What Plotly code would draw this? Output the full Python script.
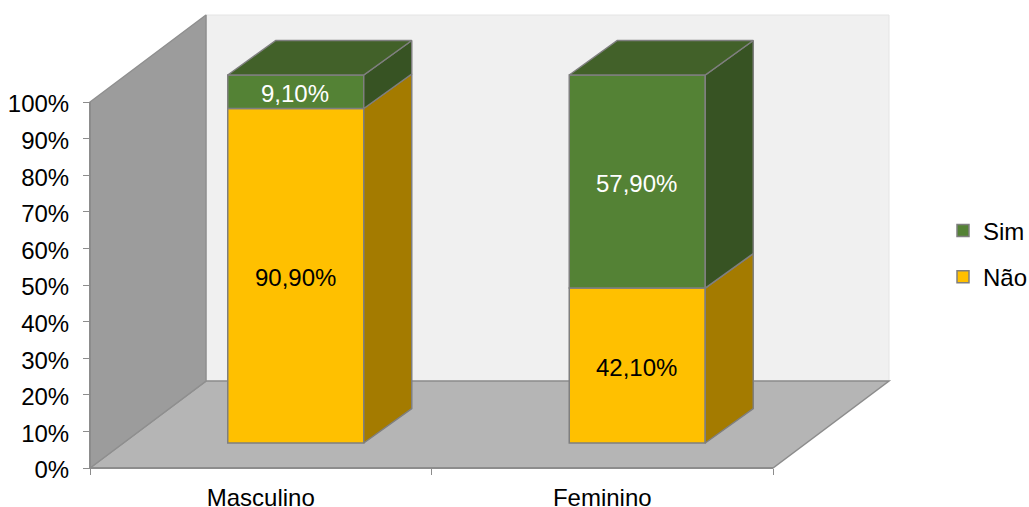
import plotly.graph_objects as go

categories = ["Masculino", "Feminino"]
nao = [90.9, 42.1]
sim = [9.1, 57.9]
y_ticks = [0, 10, 20, 30, 40, 50, 60, 70, 80, 90, 100]

W, H = 1029, 507
X0, UX = 90, 341.5      # pixel of category origin, pixels per category
Y0, UY = 468, 366       # pixel of 0%, pixels per 100%
DX, DY = 116 / UX, 87 / UY            # floor depth
FX, FY = 35 / UX, 25 / UY             # bar front offset
SX, SY = 48 / UX, 34.5 / UY           # bar depth
BW = 136 / UX
VS = 368 / 366 / 100                  # percent -> axis units

EDGE = "#7F7F7F"
GRAY = "#8C8C8C"


def poly(xs, ys, fill, name=None):
    return go.Scatter(x=xs + xs[:1], y=ys + ys[:1], mode="lines", fill="toself",
                      fillcolor=fill, line=dict(color=EDGE, width=1.5),
                      showlegend=False, hoverinfo="skip")


fig = go.Figure()

series = [("Não", nao, "#FFC000", "#A47B00", "black", 2),
          ("Sim", sim, "#548235", "#375323", "white", 1)]

font = dict(family="Liberation Sans, Arial, sans-serif", size=24, color="black")

centers = [0.5 + FX + i for i in range(len(categories))]
cum = [0.0 for _ in categories]
annotations = []
for name, vals, col, side, tcol, rank in series:
    labels = [f"{v:.2f}".replace(".", ",") + "%" for v in vals]
    bases = [FY + c * VS for c in cum]
    fig.add_trace(go.Bar(
        x=centers, y=[v * VS for v in vals], base=bases, width=BW, name=name,
        legendgroup=name, legendrank=rank,
        marker=dict(color=col, line=dict(color=EDGE, width=1.5)),
        hoverinfo="skip"))
    for i, c in enumerate(centers):
        r = c + BW / 2
        b, t = bases[i], bases[i] + vals[i] * VS
        fig.add_trace(poly([r, r + SX, r + SX, r], [b, b + SY, t + SY, t], side))
        annotations.append(dict(x=c, y=(b + t) / 2, xref="x", yref="y", text=labels[i],
                                showarrow=False, yshift=-2, xshift=-0.5,
                                font=dict(font, color=tcol)))
    cum = [c + v for c, v in zip(cum, vals)]

# top faces of the stack
for i, c in enumerate(centers):
    l, r = c - BW / 2, c + BW / 2
    t = FY + cum[i] * VS
    fig.add_trace(poly([l, r, r + SX, l + SX], [t, t, t + SY, t + SY], "#426129"))

# left wall
fig.add_trace(poly([0, DX, DX, 0], [0, DY, 1 + DY, 1], "#9C9C9C"))
fig.data[-1].line.color = "#8F8F8F"

n = len(categories)
shapes = [
    dict(type="rect", x0=DX, x1=n + DX, y0=DY, y1=1 + DY, xref="x", yref="y", layer="below",
         fillcolor="#F0F0F0", line=dict(color="#E4E4E4", width=1)),
    dict(type="path", xref="x", yref="y", layer="below",
         path=f"M 0 0 L {n} 0 L {n + DX} {DY} L {DX} {DY} Z",
         fillcolor="#B5B5B5", line=dict(color=GRAY, width=1.5)),
    dict(type="line", xref="x", yref="y", x0=0, x1=n, y0=0, y1=0, line=dict(color=GRAY, width=2)),
    dict(type="line", xref="x", yref="y", x0=0, x1=0, y0=0, y1=1, line=dict(color=GRAY, width=2)),
]

fig.update_layout(
    width=W, height=H, autosize=False,
    margin=dict(l=0, r=0, t=0, b=0, pad=0, autoexpand=False),
    paper_bgcolor="white", plot_bgcolor="rgba(0,0,0,0)",
    barmode="overlay", font=font, shapes=shapes, annotations=annotations,
    xaxis=dict(range=[-X0 / UX, (W - X0) / UX], domain=[0, 1], anchor="free", automargin=False,
               position=1 - Y0 / H, showgrid=False, zeroline=False, showline=False,
               tickmode="array", tickvals=[i + 0.5 for i in range(n)], ticktext=categories,
               ticks="outside", ticklen=8, tickcolor="rgba(0,0,0,0)",
               minor=dict(tickmode="array", tickvals=list(range(n + 1)), ticks="outside",
                          ticklen=6, tickcolor=GRAY, tickwidth=1, showgrid=False),
               tickfont=font, fixedrange=True),
    yaxis=dict(range=[-(H - Y0) / UY, Y0 / UY], domain=[0, 1], anchor="free", automargin=False,
               position=X0 / W, showgrid=False, zeroline=False, showline=False,
               tickmode="array", tickvals=[t / 100 for t in y_ticks],
               ticktext=[f"{t}%" for t in y_ticks], ticks="outside", ticklen=7,
               ticklabelstandoff=9, ticklabelshift=2,
               tickcolor=GRAY, tickwidth=1, tickfont=font, fixedrange=True),
    legend=dict(x=943 / W, y=0.499, xanchor="left", yanchor="middle",
                traceorder="grouped",
                bgcolor="rgba(0,0,0,0)", tracegroupgap=12, font=font, itemwidth=30),
    showlegend=True,
)

fig.write_html("out.html", config=dict(displayModeBar=False),
               post_script="document.body.style.margin='0';")
